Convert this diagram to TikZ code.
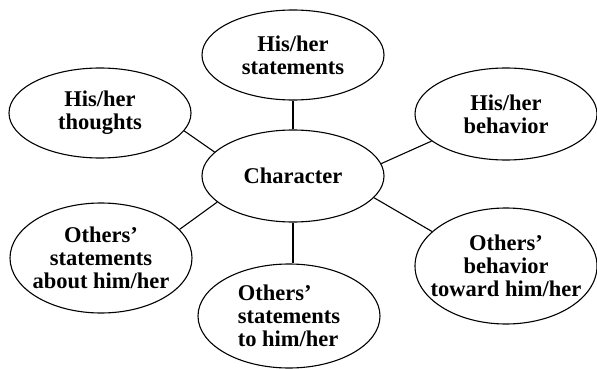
\documentclass[tikz,border=0pt]{standalone}
\usepackage{fontspec}
\setmainfont{Liberation Serif}
\usepackage{tikz}
\usetikzlibrary{shapes.geometric}

\begin{document}
\begin{tikzpicture}[x=1pt, y=-1pt,
    trait/.style={ellipse, draw, line width=1.1pt, inner ysep=0pt, inner xsep=-30pt,
        align=center, font=\fontsize{22.5}{23}\selectfont\bfseries, minimum width=182pt},
    link/.style={line width=1.1pt}]
                \useasboundingbox (0,0) rectangle (597,369);

                % Central node
                \node[trait, minimum height=92pt] (char) at (293,176) {Character};

                % What the character shows
                \node[trait, minimum height=90pt] (stmt) at (293,55) {His/her\\statements};
                \node[trait, minimum height=90pt] (thoughts) at (100,113) {His/her\\thoughts};
                \node[trait, minimum height=92pt] (behav) at (506,114) {His/her\\behavior};

                % What others say and do
                \node[trait, minimum height=110pt] (about) at (101,258) {Others'\\statements\\about him/her};
                \node[trait, minimum height=104pt, align=left] (to) at (289,316) {Others'\\statements\\to him/her};
                \node[trait, minimum height=116pt] (toward) at (506,266) {Others'\\behavior\\toward him/her};

                % Spokes
                \draw[link] (thoughts.-12) -- (char.163);
                \draw[link] (stmt.south) -- (char.north);
                \draw[link] (behav.200) -- (char.8);
                \draw[link] (char.199) -- (about.20);
                \draw[link] (char.south) -- (char.south |- to.north);
                \draw[link] (char.-15) -- (toward.155);
\end{tikzpicture}
\end{document}
